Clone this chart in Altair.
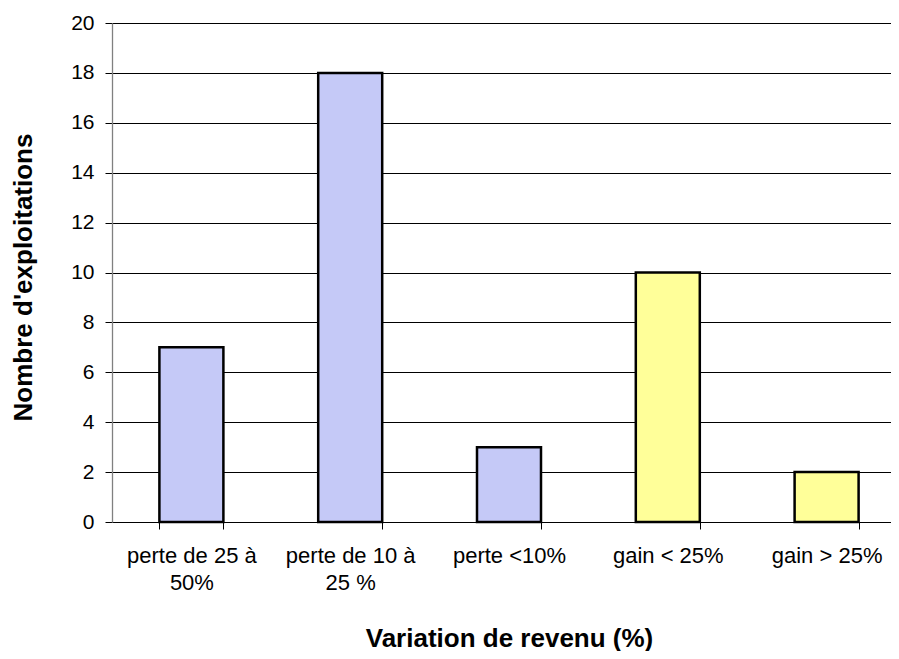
import altair as alt
import pandas as pd

categories = ["perte de 25 à\n50%", "perte de 10 à\n25 %", "perte <10%", "gain < 25%", "gain > 25%"]
values = [7, 18, 3, 10, 2]
groups = ["perte", "perte", "perte", "gain", "gain"]
group_names = ["perte", "gain"]
group_colors = ["#C5C9F7", "#FFFF99"]

df = pd.DataFrame({"cat": categories, "n": values, "grp": groups})

FONT = "Liberation Sans"

chart = alt.Chart(df).mark_bar(stroke="black", strokeWidth=2.5).encode(
    x=alt.X(
        "cat:N",
        sort=categories,
        scale=alt.Scale(range=[0, 794], paddingInner=0.597, paddingOuter=0.2985),
        axis=alt.Axis(
            title="Variation de revenu (%)",
            labelAngle=0,
            labelExpr="split(datum.label, '\\n')",
            labelFont=FONT,
            labelFontSize=22,
            labelColor="black",
            labelLineHeight=27,
            labelPadding=16,
            labelBaseline="top",
            tickBand="extent",
            tickSize=7,
            tickColor="black",
            domainColor="black",
            domainWidth=1,
            titleFont=FONT,
            titleFontSize=26,
            titleFontWeight="bold",
            titleColor="black",
            titleX=397,
            titleY=124,
            titleAnchor="middle",
            titleAlign="center",
            titleBaseline="alphabetic",
            grid=False,
        ),
    ),
    y=alt.Y(
        "n:Q",
        scale=alt.Scale(domain=[0, 20]),
        axis=alt.Axis(
            title="Nombre d'exploitations",
            values=[0, 2, 4, 6, 8, 10, 12, 14, 16, 18, 20],
            labelFont=FONT,
            labelFontSize=21,
            labelColor="black",
            labelPadding=11,
            tickSize=7,
            tickColor="black",
            domainColor="#808080",
            domainWidth=1.3,
            grid=True,
            gridColor="black",
            gridWidth=1,
            titleFont=FONT,
            titleFontSize=26,
            titleFontWeight="bold",
            titleColor="black",
            titleAngle=-90,
            titleX=-89,
            titleY=254,
            titleAlign="center",
            titleBaseline="middle",
        ),
    ),
    color=alt.Color(
        "grp:N",
        scale=alt.Scale(domain=group_names, range=group_colors),
        legend=None,
    ),
).properties(
    width=779,
    height=499,
    autosize=alt.AutoSizeParams(type="none"),
    padding={"left": 104, "top": 15, "right": 0, "bottom": 129},
).configure_view(stroke=None).configure(background="white")

chart.save("out.html", embed_options={"renderer": "svg", "actions": False})
